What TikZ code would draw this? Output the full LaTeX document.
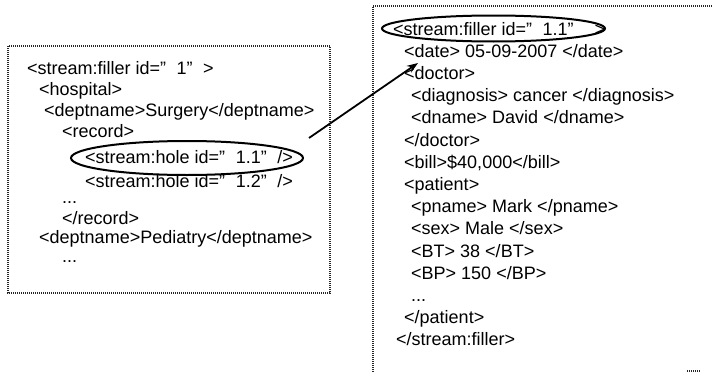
\documentclass[tikz,border=0pt]{standalone}
\usepackage{fontspec}
\setmainfont{Liberation Sans}
\usetikzlibrary{arrows.meta,shapes.geometric}
\newcommand\qsp{\hspace{10.5pt}}
\begin{document}
\begin{tikzpicture}[x=1pt,y=-1pt,
  txt/.style={anchor=base west, inner sep=0pt, font=\fontsize{18}{20}\selectfont},
  dotline/.style={line width=1.2pt, dash pattern=on 1pt off 1pt, black!85},
  ring/.style={draw, ellipse, line width=2pt, inner sep=0pt},
  link/.style={line width=1.8pt, -{Stealth[length=11pt,width=8pt]}}]
\useasboundingbox (0,0) rectangle (713,372);
% frames
\draw[dotline] (8,46) rectangle (330,293);
\draw[dotline] (373,372) -- (373,6) -- (713,6);
\draw[dotline] (687,371) -- (700,371);
% left document
\node[txt] (l1) at (27,74) {<stream:filler id=”\qsp1”\qsp>};
\node[txt] (l2) at (39,95) {<hospital>};
\node[txt] (l3) at (44,116) {<deptname>Surgery</deptname>};
\node[txt] (l4) at (62,137) {<record>};
\node[txt] (l5) at (85,163) {<stream:hole id=”\qsp1.1”\qsp/>};
\node[txt] (l6) at (85,187) {<stream:hole id=”\qsp1.2”\qsp/>};
\node[txt] (l7) at (62,203) {...};
\node[txt] (l8) at (62,224) {</record>};
\node[txt] (l9) at (39,243) {<deptname>Pediatry</deptname>};
\node[txt] (l10) at (62,262) {...};
% right document
\node[txt] (r1) at (393,35) {<stream:filler id=”\qsp1.1”\qsp\qsp>};
\node[txt] (r2) at (404,57.2) {<date> 05-09-2007 </date>};
\node[txt] (r3) at (404,79.4) {<doctor>};
\node[txt] (r4) at (411,101.6) {<diagnosis> cancer </diagnosis>};
\node[txt] (r5) at (411,123.8) {<dname> David </dname>};
\node[txt] (r6) at (404,146) {</doctor>};
\node[txt] (r7) at (404,168.2) {<bill>\$40,000</bill>};
\node[txt] (r8) at (404,190.4) {<patient>};
\node[txt] (r9) at (411,212.6) {<pname> Mark </pname>};
\node[txt] (r10) at (411,234.8) {<sex> Male </sex>};
\node[txt] (r11) at (411,257) {<BT> 38 </BT>};
\node[txt] (r12) at (411,279.2) {<BP> 150 </BP>};
\node[txt] (r13) at (411,301.4) {...};
\node[txt] (r14) at (404,323.6) {</patient>};
\node[txt] (r15) at (396,345.8) {</stream:filler>};
% highlight ellipses
\node[ring, minimum width=232pt, minimum height=34pt] (holeRing) at (187,158) {};
\node[ring, minimum width=223pt, minimum height=26pt] (fillRing) at (493.5,28.5) {};
% arrow
\coordinate (arrS) at (309,138);
\coordinate (arrE) at (418,63);
\draw[link] (arrS) -- (arrE);
\end{tikzpicture}
\end{document}
